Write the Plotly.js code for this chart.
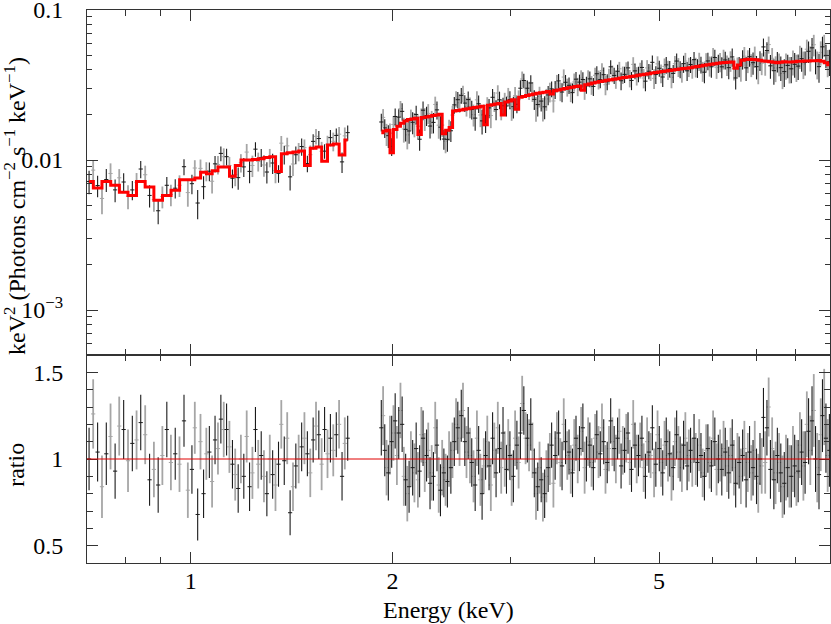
<!DOCTYPE html>
<html>
<head>
<meta charset="utf-8">
<script src="https://cdn.plot.ly/plotly-3.0.1.min.js"></script>
<style>
  html, body { margin: 0; padding: 0; background: #fff; }
  #chart { width: 831px; height: 624px; }
</style>
</head>
<body>
<div id="chart"></div>
<script>
// Unfolded spectrum (top) + data/model ratio (bottom). Two datasets: A (black), B (grey).

// ---- dataset A, soft band (0.7-1.75 keV) ----
const energyLoA = [0.705,0.726,0.748,0.771,0.794,0.818,0.842,0.868,0.894,0.921,
  0.948,0.977,1.004,1.024,1.045,1.066,1.087,1.109,1.131,1.154,
  1.177,1.200,1.224,1.249,1.274,1.299,1.325,1.352,1.379,1.407,
  1.435,1.464,1.493,1.523,1.553,1.584,1.616,1.649,1.682,1.715];
const modelLoA = [0.0072,0.0065,0.0072,0.0068,0.0061,0.0058,0.0072,0.0066,0.0054,0.0058,
  0.0063,0.0074,0.0074,0.0076,0.0083,0.0081,0.0085,0.0090,0.0090,0.0078,
  0.0092,0.0100,0.0100,0.0101,0.0102,0.0104,0.0105,0.0084,0.0110,0.0112,
  0.0113,0.0115,0.0092,0.0120,0.0122,0.0098,0.0126,0.0128,0.0108,0.0136];
const ratioLoA = [1.00,1.04,1.03,0.93,1.17,1.09,1.21,0.88,0.85,1.17,
  1.03,1.22,0.94,0.68,0.80,1.04,1.11,1.23,1.17,0.97,
  0.83,0.90,0.84,1.17,1.02,0.80,0.91,0.97,0.99,0.69,
  0.96,1.07,1.03,1.11,1.14,1.17,1.12,1.14,0.90,1.12];
const errLoA = [0.18,0.17,0.18,0.16,0.17,0.16,0.16,0.15,0.16,0.16,
  0.15,0.15,0.14,0.15,0.14,0.15,0.14,0.14,0.15,0.14,
  0.14,0.13,0.14,0.13,0.14,0.13,0.14,0.13,0.14,0.13,
  0.13,0.14,0.13,0.13,0.14,0.13,0.14,0.13,0.14,0.13];

// ---- dataset B, soft band ----
const energyLoB = [0.715,0.737,0.759,0.782,0.806,0.830,0.855,0.881,0.907,0.934,
  0.962,0.990,1.014,1.034,1.055,1.076,1.098,1.120,1.142,1.165,
  1.188,1.212,1.236,1.261,1.286,1.312,1.338,1.365,1.393,1.421,
  1.449,1.478,1.508,1.538,1.568,1.600,1.632,1.665,1.698];
const modelLoB = [0.0068,0.0066,0.0072,0.0064,0.0058,0.0064,0.0070,0.0058,0.0056,0.0060,
  0.0070,0.0074,0.0075,0.0080,0.0082,0.0083,0.0088,0.0090,0.0086,0.0088,
  0.0096,0.0100,0.0100,0.0101,0.0103,0.0104,0.0100,0.0108,0.0111,0.0112,
  0.0114,0.0108,0.0118,0.0121,0.0118,0.0124,0.0127,0.0124,0.0133];
const ratioLoB = [1.26,0.84,1.13,1.19,0.99,1.11,1.14,0.94,1.02,0.98,
  0.97,0.82,1.18,1.10,1.03,0.87,1.06,1.17,1.07,0.91,
  1.00,1.13,0.92,0.97,0.90,1.00,0.85,1.20,1.12,0.84,
  1.00,1.12,0.92,1.19,0.97,1.03,1.05,1.20,1.09];
const errLoB = [0.20,0.18,0.19,0.17,0.18,0.17,0.17,0.16,0.17,0.16,
  0.16,0.16,0.15,0.16,0.15,0.15,0.15,0.16,0.15,0.15,
  0.14,0.15,0.15,0.14,0.15,0.14,0.15,0.14,0.15,0.14,
  0.14,0.15,0.14,0.14,0.15,0.14,0.15,0.14,0.15];

// ---- dataset A, hard band (1.9-9 keV) ----
const energyHiA = [1.925,1.948,1.972,1.995,2.019,2.044,2.068,2.093,2.118,2.144,
  2.170,2.196,2.222,2.249,2.276,2.303,2.331,2.359,2.387,2.416,
  2.445,2.474,2.504,2.534,2.565,2.595,2.627,2.658,2.690,2.722,
  2.755,2.788,2.822,2.856,2.890,2.925,2.960,2.995,3.031,3.068,
  3.105,3.142,3.180,3.218,3.257,3.296,3.335,3.375,3.416,3.457,
  3.499,3.541,3.583,3.626,3.670,3.714,3.759,3.804,3.849,3.896,
  3.942,3.990,4.038,4.086,4.135,4.185,4.235,4.286,4.337,4.389,
  4.442,4.495,4.549,4.604,4.659,4.715,4.772,4.829,4.887,4.946,
  5.005,5.065,5.126,5.188,5.250,5.313,5.377,5.441,5.507,5.573,
  5.640,5.707,5.776,5.845,5.915,5.986,6.058,6.131,6.205,6.279,
  6.355,6.431,6.508,6.586,6.665,6.745,6.826,6.908,6.991,7.075,
  7.160,7.246,7.333,7.421,7.510,7.600,7.691,7.783,7.877,7.971,
  8.067,8.164,8.262,8.361,8.461,8.563,8.666,8.770,8.875,8.981];
const modelHiA = [0.0152,0.0156,0.0158,0.0112,0.0160,0.0168,0.0176,0.0182,0.0186,0.0188,
  0.0190,0.0148,0.0192,0.0194,0.0196,0.0198,0.0200,0.0202,0.0150,0.0158,
  0.0165,0.0212,0.0214,0.0216,0.0218,0.0220,0.0222,0.0224,0.0226,0.0228,
  0.0172,0.0232,0.0234,0.0236,0.0238,0.0200,0.0244,0.0248,0.0252,0.0218,
  0.0262,0.0265,0.0269,0.0272,0.0276,0.0279,0.0281,0.0283,0.0286,0.0276,
  0.0290,0.0293,0.0296,0.0300,0.0303,0.0306,0.0309,0.0312,0.0292,0.0318,
  0.0322,0.0326,0.0330,0.0334,0.0337,0.0340,0.0343,0.0346,0.0349,0.0352,
  0.0355,0.0358,0.0361,0.0364,0.0367,0.0370,0.0373,0.0376,0.0380,0.0383,
  0.0386,0.0389,0.0392,0.0395,0.0398,0.0401,0.0404,0.0407,0.0410,0.0413,
  0.0417,0.0420,0.0424,0.0428,0.0432,0.0436,0.0439,0.0442,0.0445,0.0447,
  0.0449,0.0451,0.0410,0.0430,0.0462,0.0468,0.0470,0.0469,0.0466,0.0462,
  0.0458,0.0455,0.0452,0.0448,0.0446,0.0449,0.0452,0.0450,0.0451,0.0453,
  0.0455,0.0456,0.0457,0.0458,0.0459,0.0460,0.0461,0.0455,0.0445,0.0432];
const ratioHiA = [1.18,1.05,0.92,1.10,1.22,1.15,1.20,0.88,0.84,0.95,
  1.06,0.93,1.12,1.02,0.86,0.90,1.08,0.82,0.92,0.87,
  0.95,1.10,1.18,1.25,1.10,1.15,0.98,0.85,1.05,0.80,
  1.02,0.96,1.12,0.92,1.06,1.15,0.94,1.02,0.90,1.08,
  1.15,1.28,1.12,1.20,0.92,0.84,0.88,0.80,0.95,1.08,
  1.02,1.15,0.96,1.10,1.04,0.92,1.12,1.06,1.18,1.00,
  1.08,0.95,1.14,1.03,1.10,0.98,1.22,1.06,1.12,0.96,
  1.05,1.15,0.94,1.08,1.02,1.12,0.90,1.04,1.18,0.97,
  1.06,0.92,1.10,1.03,0.95,1.14,1.00,1.08,0.96,1.05,
  1.12,0.98,1.02,0.90,1.06,0.96,1.10,1.00,0.94,1.04,
  0.92,1.08,0.86,0.98,1.02,0.88,1.04,0.95,0.90,1.00,
  1.24,1.18,0.94,0.88,1.02,0.92,0.86,0.95,0.90,0.96,
  0.93,1.04,0.98,1.16,1.22,1.00,0.91,1.25,1.12,1.05];
const errHiA = [0.16,0.15,0.16,0.15,0.16,0.15,0.16,0.15,0.15,0.16,
  0.15,0.15,0.16,0.15,0.15,0.14,0.15,0.15,0.14,0.15,
  0.15,0.14,0.15,0.15,0.14,0.15,0.14,0.15,0.14,0.15,
  0.14,0.14,0.15,0.14,0.14,0.15,0.14,0.14,0.15,0.14,
  0.15,0.14,0.14,0.15,0.14,0.14,0.13,0.14,0.14,0.13,
  0.14,0.13,0.14,0.13,0.13,0.14,0.13,0.13,0.14,0.13,
  0.13,0.13,0.14,0.13,0.13,0.12,0.13,0.13,0.12,0.13,
  0.13,0.12,0.13,0.13,0.12,0.13,0.13,0.12,0.13,0.13,
  0.13,0.13,0.14,0.13,0.13,0.14,0.13,0.14,0.14,0.13,
  0.14,0.14,0.13,0.14,0.14,0.15,0.14,0.14,0.15,0.14,
  0.15,0.15,0.14,0.15,0.15,0.16,0.15,0.16,0.16,0.15,
  0.17,0.16,0.17,0.17,0.16,0.17,0.18,0.17,0.18,0.18,
  0.18,0.19,0.18,0.19,0.20,0.19,0.20,0.21,0.20,0.21];

// ---- dataset B, hard band ----
const energyHiB = [1.937,1.960,1.983,2.007,2.031,2.056,2.080,2.105,2.131,2.157,
  2.183,2.209,2.235,2.262,2.289,2.317,2.345,2.373,2.401,2.430,
  2.459,2.489,2.519,2.549,2.580,2.611,2.643,2.674,2.706,2.738,
  2.771,2.805,2.839,2.873,2.907,2.942,2.978,3.013,3.049,3.086,
  3.124,3.161,3.199,3.237,3.276,3.316,3.355,3.395,3.436,3.478,
  3.520,3.562,3.604,3.648,3.692,3.736,3.781,3.826,3.872,3.919,
  3.966,4.014,4.062,4.110,4.160,4.210,4.260,4.311,4.363,4.415,
  4.468,4.522,4.576,4.631,4.687,4.743,4.800,4.858,4.916,4.975,
  5.035,5.096,5.157,5.219,5.281,5.345,5.409,5.474,5.540,5.606,
  5.673,5.741,5.810,5.880,5.950,6.022,6.094,6.168,6.242,6.317,
  6.393,6.469,6.547,6.625,6.705,6.785,6.867,6.949,7.033,7.117,
  7.203,7.289,7.377,7.465,7.555,7.645,7.737,7.829,7.924,8.019,
  8.115,8.213,8.311,8.411,8.512,8.614,8.718,8.822,8.928];
const modelHiB = [0.0154,0.0157,0.0140,0.0150,0.0164,0.0172,0.0179,0.0184,0.0187,0.0189,
  0.0191,0.0170,0.0193,0.0195,0.0197,0.0199,0.0201,0.0180,0.0152,0.0160,
  0.0190,0.0213,0.0215,0.0217,0.0219,0.0221,0.0223,0.0225,0.0227,0.0210,
  0.0210,0.0233,0.0235,0.0237,0.0230,0.0242,0.0246,0.0250,0.0240,0.0258,
  0.0263,0.0267,0.0270,0.0274,0.0277,0.0280,0.0282,0.0284,0.0285,0.0288,
  0.0291,0.0294,0.0298,0.0301,0.0304,0.0307,0.0310,0.0305,0.0315,0.0320,
  0.0324,0.0328,0.0332,0.0335,0.0338,0.0341,0.0344,0.0347,0.0350,0.0353,
  0.0356,0.0359,0.0362,0.0365,0.0368,0.0371,0.0374,0.0378,0.0381,0.0384,
  0.0387,0.0390,0.0393,0.0396,0.0399,0.0402,0.0405,0.0408,0.0411,0.0415,
  0.0418,0.0422,0.0426,0.0430,0.0434,0.0437,0.0440,0.0443,0.0446,0.0448,
  0.0450,0.0430,0.0420,0.0450,0.0465,0.0469,0.0470,0.0468,0.0464,0.0460,
  0.0456,0.0453,0.0450,0.0447,0.0447,0.0450,0.0451,0.0450,0.0452,0.0454,
  0.0455,0.0456,0.0457,0.0458,0.0459,0.0460,0.0458,0.0450,0.0440];
const ratioHiB = [1.25,0.95,1.08,1.15,1.02,1.28,0.90,0.80,1.00,0.92,
  0.88,1.14,0.98,1.05,0.92,1.18,0.85,0.95,0.88,1.00,
  1.05,1.20,1.12,1.28,1.04,1.02,0.90,1.12,0.88,0.96,
  1.10,0.85,1.05,1.18,0.95,1.00,1.08,0.88,1.12,0.98,
  1.32,1.12,1.08,1.05,0.80,0.95,0.78,0.90,1.00,0.86,
  1.12,0.98,1.20,1.02,0.94,1.08,1.00,1.16,0.95,1.10,
  0.98,1.12,1.04,1.18,0.94,1.06,1.10,1.00,1.16,1.05,
  1.12,0.98,1.20,1.00,1.08,0.95,1.10,1.02,0.92,1.14,
  0.98,1.08,1.02,0.90,1.10,1.04,0.95,1.12,1.02,0.98,
  1.00,1.08,0.92,1.05,0.98,1.12,0.94,1.02,1.06,0.96,
  1.02,0.95,1.00,0.90,1.06,0.98,0.92,1.05,0.86,0.96,
  0.98,1.30,1.06,0.92,0.98,0.84,0.95,0.90,1.00,0.92,
  1.08,0.96,1.20,1.05,1.28,0.95,1.14,1.30,1.02];
const errHiB = [0.17,0.16,0.17,0.16,0.17,0.16,0.17,0.16,0.16,0.17,
  0.16,0.16,0.17,0.16,0.16,0.15,0.16,0.16,0.15,0.16,
  0.16,0.15,0.16,0.16,0.15,0.16,0.15,0.16,0.15,0.16,
  0.15,0.15,0.16,0.15,0.15,0.16,0.15,0.15,0.16,0.15,
  0.16,0.15,0.15,0.16,0.15,0.15,0.14,0.15,0.15,0.14,
  0.15,0.14,0.15,0.14,0.14,0.15,0.14,0.14,0.15,0.14,
  0.14,0.14,0.15,0.14,0.14,0.13,0.14,0.14,0.13,0.14,
  0.14,0.13,0.14,0.14,0.13,0.14,0.14,0.13,0.14,0.14,
  0.14,0.14,0.15,0.14,0.14,0.15,0.14,0.15,0.15,0.14,
  0.15,0.15,0.14,0.15,0.15,0.16,0.15,0.15,0.16,0.15,
  0.16,0.16,0.15,0.16,0.16,0.17,0.16,0.17,0.17,0.16,
  0.18,0.17,0.18,0.18,0.17,0.18,0.19,0.18,0.19,0.19,
  0.19,0.20,0.19,0.20,0.21,0.20,0.21,0.22,0.21];

// axis ticks
const energyRange = [0.7, 9];
const energyTicks = [1, 2, 5];
const energyMinor = [0.7, 0.8, 0.9, 3, 4, 6, 7, 8, 9];
const fluxRangeLog = [-3.3, -0.9995];
const fluxTicks = [0.001, 0.01, 0.1];
const fluxTickText = ["10<sup>\u22123</sup>", "0.01", "0.1"];
const fluxMinor = [0.0006, 0.0007, 0.0008, 0.0009,
  0.002, 0.003, 0.004, 0.005, 0.006, 0.007, 0.008, 0.009,
  0.02, 0.03, 0.04, 0.05, 0.06, 0.07, 0.08, 0.09];
const ratioRange = [0.4, 1.6];
const ratioTicks = [0.5, 1, 1.5];
const unityRatio = 1;

// data in the top panel = model x ratio, errors scale the same way
function series(E, M, R, S) {
  return {
    E: E, R: R, S: S,
    F: M.map((m, i) => m * R[i]),
    FS: M.map((m, i) => m * S[i]),
  };
}
const A = [series(energyLoA, modelLoA, ratioLoA, errLoA), series(energyHiA, modelHiA, ratioHiA, errHiA)];
const B = [series(energyLoB, modelLoB, ratioLoB, errLoB), series(energyHiB, modelHiB, ratioHiB, errHiB)];
const cat = (parts, k) => parts.reduce((acc, p) => acc.concat(p[k]), []);

const BLACK = "#1a1a1a";
const GREY = "#a6a6a6";
const tf = { family: "Liberation Serif", size: 24, color: "#000" };

function dataTrace(parts, color, thick, xa, ya, yk, ek) {
  return {
    type: "scatter", mode: "markers", xaxis: xa, yaxis: ya,
    x: cat(parts, "E"), y: cat(parts, yk),
    error_y: { type: "data", array: cat(parts, ek), visible: true, color: color, thickness: thick, width: 0 },
    marker: { symbol: "line-ew", size: 3, color: color, line: { color: color, width: 1 } },
    hoverinfo: "skip",
  };
}
function modelTrace(E, M) {
  return {
    type: "scatter", mode: "lines", xaxis: "x2", yaxis: "y",
    x: E, y: M, line: { color: "#ff0000", width: 3, shape: "hvh" }, hoverinfo: "skip",
  };
}

const traces = [
  dataTrace(B, GREY, 1.8, "x2", "y", "F", "FS"),
  dataTrace(A, BLACK, 1.1, "x2", "y", "F", "FS"),
  modelTrace(energyLoA, modelLoA),
  modelTrace(energyHiA, modelHiA),
  dataTrace(B, GREY, 1.8, "x", "y2", "R", "S"),
  dataTrace(A, BLACK, 1.1, "x", "y2", "R", "S"),
];

const split = 208 / 553;
const axisCommon = {
  showgrid: false, zeroline: false, showline: true, linecolor: "#333", linewidth: 1,
  mirror: "ticks", ticks: "inside", ticklen: 11, tickwidth: 1, tickcolor: "#333",
  tickfont: tf, ticklabeloverflow: "allow",
};
const xCommon = {
  ...axisCommon, type: "log",
  range: energyRange.map(Math.log10),
  tickmode: "array", tickvals: energyTicks, ticktext: energyTicks.map(String),
  minor: { tickmode: "array", tickvals: energyMinor, ticks: "inside", ticklen: 6, tickwidth: 1, tickcolor: "#333" },
};

// axis titles as annotations (PGPLOT-style placement)
const titleText = {
  x: "Energy (keV)",
  flux: "keV<sup>2</sup> (Photons cm<sup>\u22122</sup> s<sup>\u22121</sup> keV<sup>\u22121</sup>)",
  ratio: "ratio",
};

const layout = {
  width: 831, height: 624,
  margin: { l: 87, r: 1, t: 10, b: 61 },
  paper_bgcolor: "#fff", plot_bgcolor: "#fff",
  showlegend: false,
  font: tf,
  xaxis: { ...xCommon, anchor: "y2", domain: [0, 1], ticklabelstandoff: -4 },
  xaxis2: { ...xCommon, anchor: "y", matches: "x", showticklabels: false },
  yaxis: { ...axisCommon, type: "log", anchor: "x2", domain: [split, 1], range: fluxRangeLog,
    tickmode: "array", tickvals: fluxTicks, ticktext: fluxTickText, ticklabelstandoff: 18,
    minor: { tickmode: "array", tickvals: fluxMinor, ticks: "inside", ticklen: 5, tickwidth: 1, tickcolor: "#333" } },
  yaxis2: { ...axisCommon, anchor: "x", domain: [0, split], range: ratioRange,
    tickmode: "array", tickvals: ratioTicks, ticktext: ["0.5", "1", "1.5"], ticklabelstandoff: 18,
    minor: { tickmode: "linear", tick0: 0, dtick: 0.1, ticks: "inside", ticklen: 6, tickwidth: 1, tickcolor: "#333" } },
  annotations: [
    { text: titleText.x, xref: "paper", yref: "paper", x: 0.486, y: -0.085,
      xanchor: "center", yanchor: "middle", showarrow: false, font: tf },
    { text: titleText.flux, xref: "paper", yref: "paper", x: -0.096, y: 0.645, textangle: -90,
      xanchor: "center", yanchor: "middle", showarrow: false, font: tf },
    { text: titleText.ratio, xref: "paper", yref: "paper", x: -0.096, y: 0.177, textangle: -90,
      xanchor: "center", yanchor: "middle", showarrow: false, font: tf },
  ],
  shapes: [{ type: "line", xref: "x domain", yref: "y2", x0: 0, x1: 1, y0: unityRatio, y1: unityRatio,
    line: { color: "#e00000", width: 1 } }],
};

Plotly.newPlot("chart", traces, layout, { staticPlot: true, displayModeBar: false });
</script>
</body>
</html>
